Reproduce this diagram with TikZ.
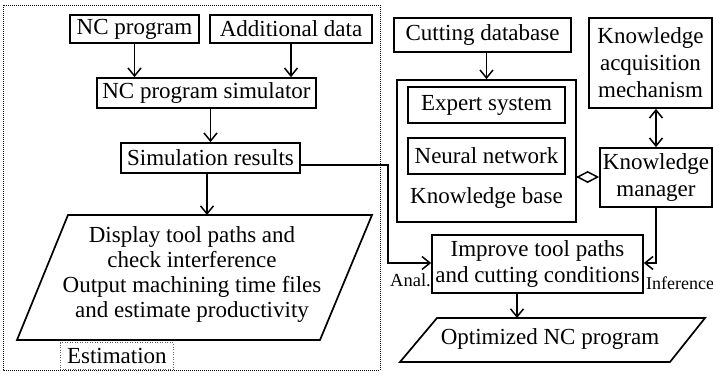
\documentclass[tikz,border=0pt]{standalone}
\usepackage{fontspec}
\setmainfont{Liberation Serif}
\usetikzlibrary{arrows.meta,calc}
\begin{document}
\begin{tikzpicture}[x=1pt,y=-1pt,
  box/.style={draw,line width=1.7pt,inner sep=0pt,align=center,font=\fontsize{23}{27}\selectfont},
  conn/.style={line width=1.5pt,-{Straight Barb[length=8pt,width=13pt,line width=1.5pt]}},
  dconn/.style={line width=1.5pt,{Straight Barb[length=8pt,width=13pt,line width=1.5pt]}-{Straight Barb[length=8pt,width=13pt,line width=1.5pt]}},
  lbl/.style={font=\fontsize{18.5}{20}\selectfont,inner sep=0pt},
  txt/.style={font=\fontsize{23}{25}\selectfont,align=center,inner sep=0pt},
  para/.style={line width=1.7pt}]
\useasboundingbox (0,0) rectangle (713,379);
% estimation frame
\draw[line width=0.9pt,dash pattern=on 1pt off 1pt] (3,5) rectangle (380,370);
\node[draw=black!60,line width=0.7pt,dash pattern=on 1pt off 1.5pt,anchor=south west,minimum width=113pt,minimum height=27pt,inner sep=0pt,font=\fontsize{23}{25}\selectfont] (est) at (60,370) {Estimation};

% left column
\node[box,minimum width=129pt,minimum height=28pt] (ncp) at (134.5,29) {NC program};
\node[box,minimum width=162pt,minimum height=28pt] (add) at (291,29) {Additional data};
\node[box,minimum width=219pt,minimum height=30pt] (sim) at (206.5,93) {NC program simulator};
\node[box,minimum width=179pt,minimum height=30pt] (simres) at (210.5,158) {Simulation results};
\draw[para] (68,215) -- (372,215) -- (320,340) -- (17,340) -- cycle;
\coordinate (ptop) at (207,215);
\node[txt] (disp) at (192,275) {Display tool paths and\\check interference\\Output machining time files\\and estimate productivity};

\draw[conn] (ncp.south) -- (ncp.south |- sim.north);
\draw[conn] (add.south) -- (add.south |- sim.north);
\draw[conn] (sim.south -| simres.north) -- (simres.north);
\draw[conn] (simres.south -| ptop) -- (ptop);

% right column
\node[box,minimum width=177pt,minimum height=34pt] (cdb) at (482.5,35) {Cutting database};
\node[box,minimum width=179pt,minimum height=142pt] (kb) at (486.5,151) {};
\node[box,minimum width=157pt,minimum height=36pt] (es) at (486.5,105) {Expert system};
\node[box,minimum width=157pt,minimum height=36pt] (nn) at (486.5,156) {Neural network};
\node[txt] (kbl) at (486.5,198) {Knowledge base};
\node[box,minimum width=123pt,minimum height=90pt] (kam) at (650.5,63) {Knowledge\\acquisition\\mechanism};
\node[box,minimum width=112pt,minimum height=59pt] (km) at (656,177.5) {Knowledge\\manager};
\node[box,minimum width=211pt,minimum height=58pt,font=\fontsize{23}{26}\selectfont] (imp) at (537.5,264) {Improve tool paths\\and cutting conditions};
\draw[para] (437,318) -- (705,318) -- (670,362) -- (400,362) -- cycle;
\coordinate (otop) at (517,318);
\node[txt] (opt) at (550,339) {Optimized NC program};

\draw[conn] (cdb.south -| kb.north) -- (kb.north);
\draw[dconn] (kam.south -| km.north) -- (km.north);
\draw[line width=1.5pt,{Diamond[open,length=23pt,width=12pt,line width=1.5pt]}-] (km.west |- 0,177) -- (kb.east |- 0,177);
\draw[conn] (simres.east |- 0,165) -- (388,165) -- (388,263) -- (imp.west |- 0,263);
\draw[conn] (km.south) -- (km.south |- 0,263) -- (imp.east |- 0,263);
\draw[conn] (imp.south -| otop) -- (otop);

\node[lbl,anchor=base east] (anal) at (431,287) {Anal.};
\node[lbl,anchor=base west,font=\fontsize{18}{20}\selectfont] (inf) at (646,290) {Inference};
\end{tikzpicture}
\end{document}
